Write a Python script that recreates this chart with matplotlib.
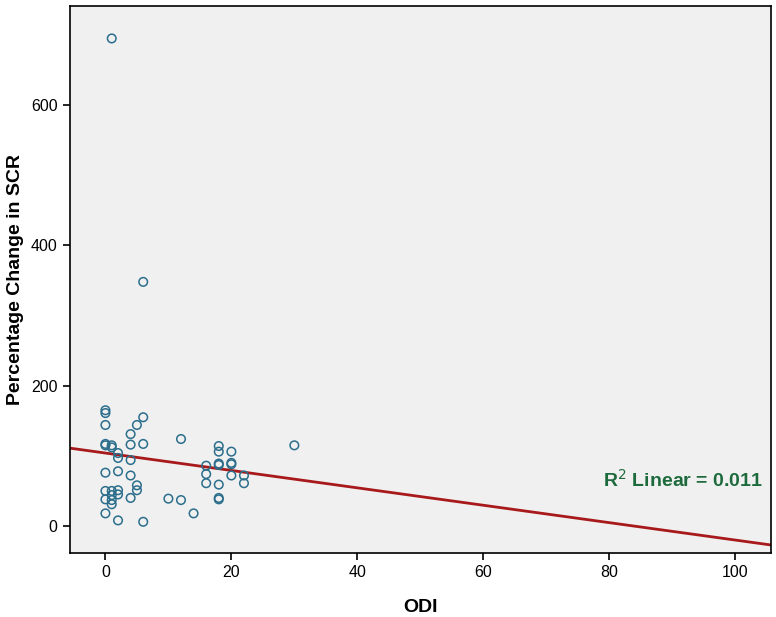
import numpy as np
import matplotlib
matplotlib.use("Agg")
import matplotlib.pyplot as plt

plt.rcParams['font.family'] = ['Liberation Sans', 'DejaVu Sans']

# ODI vs percentage change in SCR
odi = [1, 6, 30,
       0, 0, 0, 6, 5, 4, 0, 0, 1, 1, 2, 2, 4, 6, 4, 0, 2, 4,
       0, 1, 2, 2, 1, 0, 1, 1, 5, 5, 4, 0, 2, 6,
       12, 18, 18, 20, 18, 18, 20, 20, 16, 16, 20, 22, 22, 16, 18,
       18, 18, 10, 12, 14]
scr = [695, 348, 115,
       165, 161, 144, 155, 144, 131, 117, 115, 115, 112, 104, 97, 116, 117, 94, 76, 78, 72,
       50, 50, 51, 45, 44, 38, 37, 31, 58, 51, 40, 18, 8, 6,
       124, 114, 106, 106, 89, 87, 90, 88, 86, 74, 72, 72, 61, 61, 59,
       40, 38, 39, 37, 18]

# linear fit line as shown in the reference
fit_intercept = 104.0
fit_slope = -1.24
r2_text = "R$^2$ Linear = 0.011"
xticks = [0, 20, 40, 60, 80, 100]
yticks = [0, 200, 400, 600]

x = np.array(odi, dtype=float)
y = np.array(scr, dtype=float)

fig = plt.figure(figsize=(7.76, 6.17), dpi=100)
ax = fig.add_axes([0.0896, 0.1037, 0.904, 0.8863])
ax.set_facecolor('#f0f0f0')

ax.scatter(x, y, s=38, facecolors='none', edgecolors='#2b6e8c', linewidths=1.1, zorder=3)

xlim = (-5.7, 105.7)
xx = np.array(xlim)
ax.plot(xx, fit_intercept + fit_slope * xx, color='#a8191b', linewidth=2, zorder=2)

ax.set_xlim(*xlim)
ax.set_ylim(-38.5, 741)
ax.set_xticks(xticks)
ax.set_yticks(yticks)
ax.tick_params(direction='out', length=5, width=1.2, labelsize=11.5, colors='black')

for s in ax.spines.values():
    s.set_color('black')
    s.set_linewidth(1.2)

ax.set_xlabel('ODI', fontsize=14, fontweight='bold', labelpad=14)
ax.set_ylabel('Percentage Change in SCR', fontsize=14, fontweight='bold', labelpad=5)

ax.text(104.5, 66, r2_text, ha='right', va='center', fontsize=14,
        fontweight='bold', color='#1d6b3c')

fig.savefig('out.png', dpi=100)
